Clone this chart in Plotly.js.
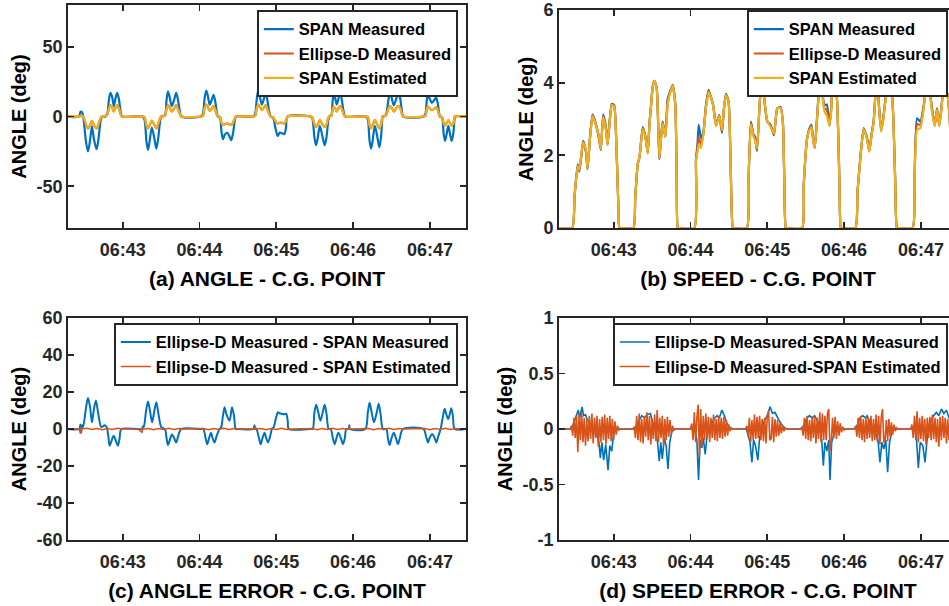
<!DOCTYPE html>
<html><head><meta charset="utf-8">
<script src="https://cdn.plot.ly/plotly-3.0.1.min.js"></script>
<style>html,body{margin:0;padding:0;overflow:hidden;background:#fff;width:949px;height:606px}#chart{width:975px;height:606px}</style>
</head><body><div id="chart"></div><script>
// ---------- DATA (time in seconds after 06:42:00) ----------
const A_T = [17,26,27,28.3,29.2,31.5,32.9,34.4,36,37.5,39.6,41,42.8,44,46.5,48,49.4,50.5,51.8,53.1,54.4,55.7,57,58.5,59.6,
 75.5,77,78.6,79.8,81,82.8,84.8,86.3,87.6,89.3,90.2,93,94.3,95.4,96.7,98.4,100.5,101.8,103,104.8,105.8,
 121,122.7,124,125.3,126.5,128,129.6,131,132.3,133.7,134.4,136,137.2,138.3,139.8,141.5,143.3,144.8,146.2,147.8,148.7,
 162,163.5,164.8,165.9,167.2,168.8,170.4,171.7,173,174.6,175.6,177.5,179.5,181.1,182.7,184.5,186.3,187.6,188.9,
 206.5,208,209.8,211,212.3,214,216,217.8,219.2,220.6,221.4,223,224,224.8,226,227.3,228.6,229.8,231,232.7,233.9,
 250,251.5,252.8,254,255.2,257,259,260.5,261.8,262.7,263.1,265.5,267.6,268.8,270,271.8,273.8,275.6,276.8,278.3,279.2,
 295,296.5,297.5,298.3,299.7,301.5,303.5,304.8,306,307.3,307.9,309.5,310.7,311.8,313,314.4,315.8,317,318.3,319.2,319.6,328.5];
const A_SPAN_MEAS = [0,0,3.5,3,0,-19,-25,-18,-7,-16,-23.5,-17,-3,0,0,2,13,17,14,7.5,13,17,13,3,0,
 0,-2,-18,-24,-18,-8,-16,-23,-17,-3,0,1,12,17.8,14,7.5,13,17,13,3,0,
 0,2,13,18.5,15,8.5,12,15.6,11,2,0,-1,-11,-16.3,-13,-11.5,-14,-17,-12,-2,0,
 0,2,13,18.5,14,8.5,13,17,12,3,0,-1,-9,-14,-11.5,-12,-12.7,-8,0,
 0,-1,-15,-20.6,-16,-6.7,-14,-20.6,-15,-3,0,1,11,15.3,13,8.6,13,17.4,13,3,0,
 0,-2,-17,-23,-18,-6.7,-15,-22,-15,-3,0,1,12,17.4,14,8,13,17.4,13,3,0,
 0,2,11,15.3,13,9.8,12,13.7,10,2,0,-1,-12,-17.5,-13,-6.7,-13,-17.5,-12,-2,0,0];
const A_ELLIPSE_MEAS = [0,0,0.3,0.4,0,-6.2,-8.7,-6.4,-3.2,-6.1,-8.6,-5.8,-1.2,0,0.4,1.4,6.1,8.1,6.4,3.6,6.1,8.1,5.9,1.4,0,
 0,-0.4,-6.6,-8.6,-6.4,-3.1,-6.1,-8.6,-5.9,-1.1,0,0.4,5.6,8.1,6.4,3.6,6.1,8.1,5.9,1.4,0,
 0,0.4,6.1,8.6,6.9,4.1,5.6,7.6,4.9,0.9,0,-0.4,-4.6,-6.1,-5.4,-5.1,-5.6,-6.1,-4.4,-0.9,0,
 0,0.4,6.1,8.6,6.9,4.6,6.6,8.1,5.4,1.4,0,-0.4,-3.6,-5.1,-4.4,-4.6,-5.1,-2.9,0,
 0,-0.4,-5.6,-7.6,-5.9,-2.6,-5.6,-7.6,-5.9,-0.9,0,0.4,5.1,7.1,5.9,3.6,6.1,7.6,5.9,1.4,0,
 0,-0.4,-6.1,-8.6,-6.4,-2.6,-6.1,-8.6,-5.9,-0.9,0,0.4,5.6,7.6,6.4,3.6,6.1,7.6,5.9,1.4,0,
 0,0.4,5.1,7.1,5.9,4.6,5.6,6.6,4.9,0.9,0,-0.4,-4.6,-6.6,-4.9,-2.6,-4.9,-6.6,-4.9,-0.9,0,0];
const A_SPAN_EST = [0,0,0.5,0.5,0,-6,-8.5,-6.5,-3,-6,-8.5,-6,-1,0,0.5,1.5,6,8,6.5,3.5,6,8,6,1.5,0,
 0,-0.5,-6.5,-8.5,-6.5,-3,-6,-8.5,-6,-1,0,0.5,5.5,8,6.5,3.5,6,8,6,1.5,0,
 0,0.5,6,8.5,7,4,5.5,7.5,5,1,0,-0.5,-4.5,-6,-5.5,-5,-5.5,-6,-4.5,-1,0,
 0,0.5,6,8.5,7,4.5,6.5,8,5.5,1.5,0,-0.5,-3.5,-5,-4.5,-4.5,-5,-3,0,
 0,-0.5,-5.5,-7.5,-6,-2.5,-5.5,-7.5,-6,-1,0,0.5,5,7,6,3.5,6,7.5,6,1.5,0,
 0,-0.5,-6,-8.5,-6.5,-2.5,-6,-8.5,-6,-1,0,0.5,5.5,7.5,6.5,3.5,6,7.5,6,1.5,0,
 0,0.5,5,7,6,4.5,5.5,6.5,5,1,0,-0.5,-4.5,-6.5,-5,-2.5,-5,-6.5,-5,-1,0,0];

const B_T = [17,27.6,29.5,31.9,33.1,34.5,36.2,38.3,39.6,41.5,43.5,45.6,48.2,50,51.8,53.9,55.2,57,58.6,60.4,62.2,63.5,64.4,
 65.5,75.4,76.8,78.8,80.2,82.7,84.8,86.6,88,89.2,90.5,91.8,93.6,95.7,97,98.3,100.4,102.2,104,106.1,108.2,109.2,110,
 111,123,124.3,125.5,126.4,128.2,130,132.1,134.2,136,137.8,139.9,142.5,144.6,146.2,147.7,149.8,151.5,152.9,
 153.5,164,165.5,167.2,169,170.5,172,174,175.8,177.5,180,182.6,185.2,187.8,190.4,192.2,193.3,194.3,
 195,207.2,208.5,211.1,213,214.5,216,217.1,218.8,220.2,221.5,222.8,224.7,226.5,228.6,229.9,231.2,233.8,235.5,236.5,237.4,
 238.5,248.8,250.5,252.7,255.3,257.9,259.7,261.5,263.1,265.5,267,268.9,270.5,272.5,275,276.8,278.5,280,281.2,
 282.5,293.5,295,297,299.6,302.2,304,305.5,307,308.7,310.8,312.6,314.4,316,317.8,320.4,322.5,324.5,326,328.5];
const B_SPAN_MEAS = [0,0,0.9,1.75,1.55,1.9,2.4,2.1,1.62,2.5,3.12,2.93,2.52,2.15,3.12,2.8,2.3,3.0,3.42,3.38,2.2,0.8,0.02,
 0,0,0.8,1.76,1.95,2.78,2.52,2.07,2.9,3.38,3.9,4.05,3.87,1.89,2.5,2.93,2.52,3.55,3.75,3.94,3.38,1.5,0.02,
 0,0,1.89,2.3,2.84,2.48,2.61,3.38,3.8,3.6,3.38,2.84,3.11,2.62,3.3,3.69,3.47,1.5,0.02,
 0,0,1.5,2.93,2.6,2.5,2.12,3.4,4.15,3.6,2.93,2.84,2.55,3.29,3.33,2.9,1.3,0.02,
 0,0,1.2,2.48,2.75,2.84,2.4,2.21,3.0,3.74,4.3,3.8,3.38,3.4,2.84,3.29,3.96,3.8,2.5,1.0,0.02,
 0,0,1.0,1.95,2.75,2.48,2.12,2.6,2.95,4.2,3.5,2.7,3.0,3.6,4.1,3.95,3.0,1.2,0.02,
 0,0,1.3,3.02,2.93,3.38,3.9,4.3,3.8,3.29,2.84,3.29,2.84,3.3,3.83,3.74,3.0,1.2,0.02,0];
const B_ELLIPSE_MEAS = [0,0,0.9,1.72,1.58,1.93,2.37,2.13,1.64,2.47,3.1,2.9,2.56,2.17,3.08,2.75,2.29,2.97,3.4,3.36,2.2,0.8,0.02,
 0,0,0.8,1.76,1.95,2.75,2.51,2.06,2.87,3.36,3.89,4.05,3.86,1.9,2.47,2.9,2.51,3.47,3.72,3.93,3.36,1.5,0.02,
 0,0,1.87,2.2,2.5,2.3,2.58,3.34,3.77,3.6,3.36,2.82,3.1,2.66,3.3,3.67,3.46,1.5,0.02,
 0,0,1.5,2.89,2.57,2.45,2.16,3.4,4.13,3.6,2.94,2.81,2.58,3.29,3.31,2.9,1.3,0.02,
 0,0,1.2,2.46,2.72,2.81,2.37,2.2,2.97,3.72,4.29,3.77,3.29,3.25,2.82,3.25,3.94,3.79,2.5,1.0,0.02,
 0,0,1.0,1.93,2.73,2.46,2.11,2.57,2.92,4.19,3.47,2.67,2.97,3.57,4.09,3.93,3.0,1.2,0.02,
 0,0,1.3,2.86,2.84,3.34,3.89,4.29,3.77,3.25,2.82,3.27,2.82,3.27,3.81,3.73,3.0,1.2,0.02,0];
const B_SPAN_EST = [0,0,0.9,1.7,1.6,1.95,2.35,2.15,1.65,2.45,3.08,2.88,2.58,2.18,3.05,2.72,2.28,2.95,3.38,3.35,2.2,0.8,0.02,
 0,0,0.8,1.76,1.95,2.72,2.5,2.05,2.85,3.35,3.88,4.05,3.85,1.92,2.45,2.88,2.5,3.4,3.7,3.92,3.35,1.5,0.02,
 0,0,1.85,2.1,2.3,2.2,2.55,3.3,3.75,3.6,3.35,2.8,3.08,2.7,3.3,3.66,3.45,1.5,0.02,
 0,0,1.5,2.85,2.55,2.4,2.2,3.4,4.12,3.6,2.95,2.78,2.6,3.29,3.3,2.9,1.3,0.02,
 0,0,1.2,2.45,2.7,2.78,2.35,2.2,2.95,3.7,4.28,3.75,3.2,3.1,2.8,3.2,3.92,3.78,2.5,1.0,0.02,
 0,0,1.0,1.92,2.72,2.45,2.1,2.55,2.9,4.18,3.45,2.65,2.95,3.55,4.08,3.92,3.0,1.2,0.02,
 0,0,1.3,2.7,2.75,3.3,3.88,4.28,3.75,3.2,2.8,3.25,2.8,3.25,3.8,3.72,3.0,1.2,0.02,0];

const C_MEAS_T = [17,26,27,27.6,28.2,29,31.5,32.9,34.5,36,37.6,39.1,41,43.3,46,47.5,48.8,49.8,51,53,55,56.3,57.6,59,
 75.1,75.8,76.5,78.3,79.8,81.3,83,84.8,86.3,88,90.2,93,94.3,95.4,96.8,98.5,100.3,101.8,103.3,105.8,
 121,123,124.8,126.1,127.5,129,130.3,131.7,133.3,135.6,137,138.3,139.6,141,143.5,145.4,147,148.4,151,
 162,163,163.6,164.5,166.5,167.8,169.2,170.8,172.2,173.5,175.2,176.6,178,179.8,181.3,182.5,184.5,186.5,187.8,189,189.7,
 207,208.5,209.8,211.2,212.8,214.5,216.3,217.8,219.3,220.9,222.5,224.2,225.6,227,228.5,230.5,232.1,233.5,234.7,236.5,237,237.6,
 249.5,251.5,252.9,254.5,256.3,258.5,260,261.5,263.3,266,267.2,268.5,270,271.8,273.5,275,276.5,278.9,
 295,297,298.5,300,301.8,303.5,305,306.5,308.4,310,311.5,312.8,314.2,315.5,316.7,318,319.4,328.5];
const C_MEAS = [0,0,2.5,-2,2,1,12,16.7,12,3.6,11,15.4,8,1,2,1,-4,-9.1,-7,-3.6,-7,-9.1,-5,0,
 0,1.5,1,10,14.9,10,3.6,10,14.5,8,1,0,-5,-8.7,-6,-3,-5,-7.3,-4,0,
 0,0,-5,-8.2,-5,-2,-5,-7.3,-4,0,1,7,11.8,8,4.5,11.8,7,0,0,
 0,2,0,0,-5,-8.2,-5,-2,-5,-7.3,-4,0,1,6,9.1,8.5,8.2,8,8.2,4,0,
 0,0,9,13.1,9,4.5,9,13.1,8,0,0,-5,-8.2,-5,-2,-5,-8.2,-5,0,0,2,0,
 0,9,14.2,9,3.6,9,13.6,8,0,0,-5,-8.7,-5,-2,-5,-8.2,-5,0,
 0,-4,-7.3,-4.5,-2.7,-4.5,-7.3,-4,0,6,10.9,8,5.4,8,11.2,7,0,0];
const C_EST_T = [17,26,27,27.6,28.5,32,36,40,44,48,52,56,60,66,72,75.1,75.8,76.5,80,84,88,92,96,100,104,
 108,115,121,123,127,131,135,139,143,147,151,157,163,163.6,164.5,168,172,176,180,184,188,192,200,207,208,
 212,216,220,224,228,232,236,237,237.6,243,249.5,252,256,260,264,268,272,276,280,287,295,296,300,304,308,
 312,316,320,324,328.5];
const C_EST = [0,0,-2.5,0.8,0,0.4,-0.3,0.3,-0.4,0.3,-0.3,0.4,0,0.1,0,-1.8,0.6,0,0.3,-0.4,0.3,-0.3,0.4,-0.3,0.3,
 0,0.1,0,0.3,-0.4,0.3,-0.3,0.4,-0.3,0.3,0,0.1,0,1.2,0,0.3,-0.4,0.3,-0.3,0.4,-0.3,0,0.1,0,0.3,
 -0.4,0.3,-0.3,0.4,-0.3,0.3,-0.2,0.8,0,0.1,0,0.3,-0.4,0.3,-0.3,0.4,-0.3,0.3,0,0.1,0,0.3,-0.4,0.3,-0.3,
 0.4,-0.3,0.3,0,0];

const D_MEAS_T = [17,26.5,28,29.5,31,32.4,33.5,35.3,36.5,38,39.5,41,43,45,47,48.5,49.6,50.8,52.2,53.8,55.6,57,58.5,60,62,64.5,
 76,78,80,82,84,86,88.7,90.5,92.5,94.3,95.6,96.8,98,99.5,101,102.4,103.8,105.5,108,
 121.5,123,125,126.3,127.5,128.8,130,131.5,133,135,137,139,141,142.5,144.5,146.5,148.5,151,153,
 163.5,165,166.5,168,169.3,170.8,172.6,174,176,178,180,182.2,184,186,188,190,192.5,195,
 207,209,211,213,215,217,219,220.5,222.5,223.8,225,226.5,228,229,230.3,232,234,237,240,
 249,250.5,252.5,254.5,256.5,258,260,262,264,266.5,268,269.5,271,272.6,274,275.5,277,279.5,281,
 293,295,296.5,298,299.5,301.5,303.2,304.8,306.5,308,310,312,314,316,318,320,322,324,326,328.5];
const D_MEAS = [0,0,0.03,0.08,0.12,0.17,0.1,0.2,0.12,0.13,0.08,0.06,0.03,-0.02,-0.06,-0.12,-0.26,-0.12,-0.28,-0.14,-0.37,-0.15,-0.2,-0.04,0,0,
 0,0.04,0.08,0.12,0.1,0.13,0.14,0.06,0.02,-0.12,-0.29,-0.12,-0.27,-0.08,-0.15,-0.36,-0.12,-0.02,0,
 0,0.02,-0.1,-0.46,-0.1,-0.17,-0.08,-0.23,-0.05,0.02,0.06,0.1,0.12,0.1,0.17,0.12,0.05,0.01,0,
 0,-0.05,-0.12,-0.3,-0.1,-0.15,-0.28,-0.08,0.02,0.08,0.12,0.2,0.14,0.15,0.1,0.06,0.02,0,
 0,0.05,0.1,0.12,0.1,0.12,0.08,0.03,-0.1,-0.33,-0.12,-0.2,-0.1,-0.46,-0.12,-0.05,0.02,0.01,0,
 0,0.05,0.1,0.12,0.1,0.12,0.06,0.02,-0.02,-0.1,-0.3,-0.12,-0.18,-0.1,-0.39,-0.12,-0.04,0.01,0,
 0,0.03,-0.08,-0.35,-0.12,-0.15,-0.3,-0.1,0.02,0.08,0.12,0.15,0.12,0.18,0.14,0.17,0.1,0.05,0.01,0];
// Ellipse-D Measured - SPAN Estimated speed error: bursts sampled at 1 Hz
const D_EST_START = [27,76,121,164,207,249,293];
const D_EST_1 = [0.03,-0.06,0.1,-0.08,0.12,-0.21,0.14,-0.1,0.15,-0.12,0.1,-0.15,0.08,-0.11,0.12,-0.09,0.14,-0.13,0.1,-0.08,0.12,-0.16,0.09,-0.12,0.11,-0.1,0.13,-0.14,0.1,-0.09,0.12,-0.11,0.09,-0.1,0.07,-0.05,0.03,-0.01];
const D_EST_2 = [0.02,-0.08,0.12,-0.1,0.14,-0.12,0.09,-0.13,0.11,-0.07,0.15,-0.1,0.12,-0.14,0.08,-0.09,0.13,-0.11,0.17,-0.12,0.1,-0.08,0.12,-0.15,0.09,-0.1,0.11,-0.07,0.08,-0.05,0.03,-0.01];
const D_EST_3 = [0.05,-0.1,0.15,-0.12,0.1,0.22,-0.25,0.18,-0.15,0.12,-0.1,0.14,-0.09,0.11,-0.12,0.1,-0.08,0.13,-0.1,0.09,-0.11,0.12,-0.08,0.1,-0.09,0.11,-0.07,0.08,-0.06,0.04,-0.02,0.01];
const D_EST_4 = [0.03,-0.07,0.1,-0.12,0.08,-0.1,0.13,-0.09,0.11,-0.08,0.12,-0.1,0.09,-0.11,0.1,-0.13,0.12,0.16,-0.1,-0.09,0.11,-0.12,0.09,-0.07,0.08,-0.06,0.05,-0.04,0.03,-0.02,0.01];
const D_EST_5 = [0.02,-0.06,0.1,-0.09,0.12,-0.1,0.08,-0.11,0.1,-0.08,0.12,-0.13,0.1,-0.09,0.15,-0.12,0.14,-0.1,0.12,-0.1,0.14,0.18,-0.2,-0.12,0.1,-0.08,0.11,-0.09,0.07,-0.06,0.05,-0.03,0.02,-0.01];
const D_EST_6 = [0.03,-0.07,0.1,-0.08,0.12,-0.1,0.09,-0.12,0.11,-0.09,0.1,-0.08,0.12,-0.11,0.09,-0.1,0.13,-0.12,0.12,-0.14,0.1,0.18,-0.12,-0.1,0.08,-0.11,0.09,-0.07,0.06,-0.05,0.04,-0.02,0.01];
const D_EST_7 = [0.04,-0.08,0.12,-0.1,0.16,-0.12,0.1,-0.09,0.12,-0.11,0.09,-0.14,0.1,-0.08,0.11,-0.1,0.13,-0.09,0.1,-0.12,0.09,-0.16,0.11,-0.1,0.12,-0.08,0.1,-0.13,0.09,-0.1,0.11,-0.07,0.08,-0.06,0.04,-0.02];

// tick labels
const X_RANGE = [17.3, 328.2];
const A_YTICKS = [-50, 0, 50];
const B_YTICKS = [0, 2, 4, 6];
const C_YTICKS = [-60, -40, -20, 0, 20, 40, 60];
const D_YTICKS = [-1, -0.5, 0, 0.5, 1];
const TITLES = ['(a) ANGLE - C.G. POINT', '(b) SPEED - C.G. POINT', '(c) ANGLE ERROR - C.G. POINT', '(d) SPEED ERROR - C.G. POINT'];
const YTITLE = 'ANGLE (deg)';

// ---------- helpers ----------
const BASE = Date.UTC(2024, 0, 1, 6, 42, 0);
function ts(t) { return new Date(BASE + Math.round(t * 1000)).toISOString().replace('T', ' ').replace('Z', ''); }
function dates(arr) { return arr.map(ts); }

const BLUE = '#0072BD', RED = '#D95319', YEL = '#EDB120', AX = '#262626';
const F = 'Liberation Sans, Arial, Helvetica, sans-serif';

// build D est series from bursts
const D_EST_BURSTS = [D_EST_1, D_EST_2, D_EST_3, D_EST_4, D_EST_5, D_EST_6, D_EST_7];
const dEstT = [17], dEstV = [0];
D_EST_BURSTS.forEach((b, k) => {
  const s = D_EST_START[k];
  dEstT.push(s - 1); dEstV.push(0);
  b.forEach((v, i) => { dEstT.push(s + i); dEstV.push(v); });
  dEstT.push(s + b.length); dEstV.push(0);
});
dEstT.push(328.5); dEstV.push(0);

function line(x, y, color, name, xa, ya, lg, w, sm) {
  const ln = { color: color, width: w };
  if (sm) { ln.shape = 'spline'; ln.smoothing = sm; }
  return { type: 'scatter', mode: 'lines', x: dates(x), y: y, name: name, xaxis: xa, yaxis: ya, legend: lg,
           line: ln, hoverinfo: 'skip' };
}

const traces = [
  line(A_T, A_SPAN_MEAS, BLUE, 'SPAN Measured', 'x', 'y', 'legend', 2.2, 0.8),
  line(A_T, A_ELLIPSE_MEAS, RED, 'Ellipse-D Measured', 'x', 'y', 'legend', 2.2, 0.8),
  line(A_T, A_SPAN_EST, YEL, 'SPAN Estimated', 'x', 'y', 'legend', 2.2, 0.8),
  line(B_T, B_SPAN_MEAS, BLUE, 'SPAN Measured', 'x2', 'y2', 'legend2', 2.2, 0.5),
  line(B_T, B_ELLIPSE_MEAS, RED, 'Ellipse-D Measured', 'x2', 'y2', 'legend2', 2.2, 0.5),
  line(B_T, B_SPAN_EST, YEL, 'SPAN Estimated', 'x2', 'y2', 'legend2', 2.2, 0.5),
  line(C_MEAS_T, C_MEAS, BLUE, 'Ellipse-D Measured - SPAN Measured', 'x3', 'y3', 'legend3', 2, 0.8),
  line(C_EST_T, C_EST, RED, 'Ellipse-D Measured - SPAN Estimated', 'x3', 'y3', 'legend3', 1.5, 0),
  line(D_MEAS_T, D_MEAS, BLUE, 'Ellipse-D Measured-SPAN Measured', 'x4', 'y4', 'legend4', 1.6, 0),
  line(dEstT, dEstV, RED, 'Ellipse-D Measured-SPAN Estimated', 'x4', 'y4', 'legend4', 1.6, 0)
];

const W = 975, H = 606;
const common = { ticks: 'inside', ticklen: 6, tickwidth: 1.8, tickcolor: AX, showline: true, linecolor: AX, linewidth: 1.8,
  mirror: 'ticks', showgrid: false, zeroline: false, automargin: false, ticklabeloverflow: 'allow',
  tickfont: { family: F, size: 18, color: AX, weight: 'bold' } };
function xax(l, r, anchor, title) {
  return Object.assign({}, common, { domain: [l / W, r / W], anchor: anchor, type: 'date',
    range: [ts(X_RANGE[0]), ts(X_RANGE[1])], tickformat: '%H:%M', dtick: 60000, tick0: ts(60), ticklabelstandoff: 5,
    title: { text: title, font: { family: F, size: 21, color: '#000', weight: 'bold' }, standoff: 12 } });
}
function yax(top, bot, anchor, range, ticks) {
  return Object.assign({}, common, { domain: [1 - bot / H, 1 - top / H], anchor: anchor, range: range,
    tickvals: ticks, ticktext: ticks.map(String),
    title: { text: YTITLE, font: { family: F, size: 20, color: '#000', weight: 'bold' }, standoff: 4 } });
}
function leg(right, top) {
  return { x: right / W, y: 1 - top / H, xanchor: 'right', yanchor: 'top', bgcolor: '#fff', bordercolor: AX, borderwidth: 1.8,
    font: { family: F, size: 16.5, color: '#000', weight: 'bold' }, tracegroupgap: 0 };
}

const layout = {
  width: W, height: H, margin: { l: 0, r: 0, t: 0, b: 0 }, paper_bgcolor: '#fff', plot_bgcolor: '#fff', showlegend: true,
  xaxis: xax(68, 466, 'y', TITLES[0]),
  yaxis: yax(5, 228, 'x', [-80, 80], A_YTICKS),
  xaxis2: xax(559, 957, 'y2', TITLES[1]),
  yaxis2: yax(10, 228, 'x2', [0, 6], B_YTICKS),
  xaxis3: xax(68, 466, 'y3', TITLES[2]),
  yaxis3: yax(318, 540, 'x3', [-60, 60], C_YTICKS),
  xaxis4: xax(559, 957, 'y4', TITLES[3]),
  yaxis4: yax(318, 540, 'x4', [-1, 1], D_YTICKS),
  legend: leg(458, 10), legend2: leg(948, 10), legend3: leg(458, 323), legend4: leg(948, 323)
};
Plotly.newPlot('chart', traces, layout, { staticPlot: true, displayModeBar: false });
</script></body></html>
